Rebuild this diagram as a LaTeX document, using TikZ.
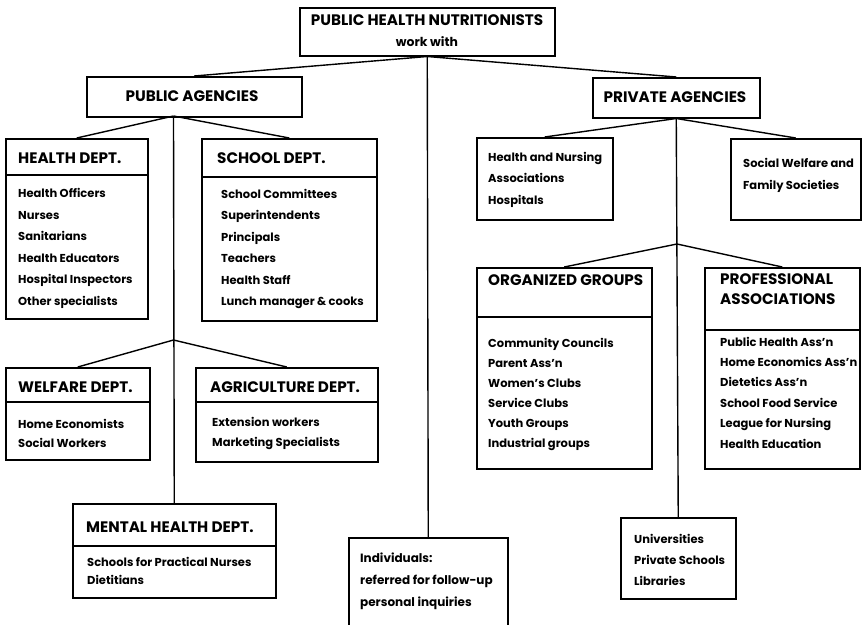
\documentclass[tikz,border=0pt]{standalone}
\usepackage{fontspec}
\setmainfont{Poppins}
\usetikzlibrary{positioning,calc}

\begin{document}
\begin{tikzpicture}[
  x=1pt, y=-1pt,
  orgbox/.style={
    rectangle, draw=black, line width=1.5pt, anchor=north west,
    inner sep=0pt
  },
  titletxt/.style={font=\bfseries\fontsize{15.2}{17}\selectfont, inner sep=0pt},
  headtxt/.style={
    anchor=base west, inner sep=0pt,
    font=\bfseries\fontsize{15.2}{17}\selectfont
  },
  itemtxt/.style={
    anchor=base west, inner sep=0pt,
    font=\bfseries\fontsize{11.5}{13}\selectfont
  },
  link/.style={draw=black, line width=1.4pt},
]
\useasboundingbox[fill=white] (0,0) rectangle (865,624);

% Top of the chart
\node[orgbox, minimum width=255pt, minimum height=48pt] (top) at (299,7) {};
\node[titletxt, anchor=base] (toptxt) at (427,25.5) {PUBLIC HEALTH NUTRITIONISTS};
\node[titletxt, anchor=base, font=\bfseries\fontsize{12.4}{14}\selectfont] (topsub) at (427,46) {work with};

\node[orgbox, minimum width=215pt, minimum height=40pt] (pub) at (86,76) {};
\node[titletxt, anchor=base] (pubtxt) at (192,101.5) {PUBLIC AGENCIES};
\node[orgbox, minimum width=167pt, minimum height=40pt] (priv) at (592,77) {};
\node[titletxt, anchor=base] (privtxt) at (675,102.5) {PRIVATE AGENCIES};

% Public agencies (left side)
\node[orgbox, minimum width=142pt, minimum height=180pt] (health) at (5,138) {};
\draw[link] ([yshift=-37pt]health.north west) -- ([yshift=-37pt]health.north east);
\node[headtxt] (healthhd) at (18,163.5) {HEALTH DEPT.};
\foreach \t [count=\i] in {Health Officers, Nurses, Sanitarians, Health Educators,
    Hospital Inspectors, Other specialists}
  \node[itemtxt] (health\i) at (18,{197.5+21.6*(\i-1)}) {\t};

\node[orgbox, minimum width=175pt, minimum height=182pt] (school) at (201,138) {};
\draw[link] ([yshift=-39pt]school.north west) -- ([yshift=-39pt]school.north east);
\node[headtxt] (schoolhd) at (217,163.5) {SCHOOL DEPT.};
\foreach \t [count=\i] in {School Committees, Superintendents, Principals, Teachers,
    Health Staff, Lunch manager \& cooks}
  \node[itemtxt] (school\i) at (221,{198.5+21.4*(\i-1)}) {\t};

\node[orgbox, minimum width=144pt, minimum height=92pt] (welfare) at (5,367) {};
\draw[link] ([yshift=-35pt]welfare.north west) -- ([yshift=-35pt]welfare.north east);
\node[headtxt] (welfarehd) at (18,392.5) {WELFARE DEPT.};
\node[itemtxt] (welfare1) at (18,428) {Home Economists};
\node[itemtxt] (welfare2) at (18,447) {Social Workers};

\node[orgbox, minimum width=182pt, minimum height=94pt] (agri) at (195,367) {};
\draw[link] ([yshift=-35pt]agri.north west) -- ([yshift=-35pt]agri.north east);
\node[headtxt] (agrihd) at (210,392.5) {AGRICULTURE DEPT.};
\node[itemtxt] (agri1) at (212,426.5) {Extension workers};
\node[itemtxt] (agri2) at (212,446.5) {Marketing Specialists};

\node[orgbox, minimum width=203pt, minimum height=94pt] (mental) at (72,503) {};
\draw[link] ([yshift=-43pt]mental.north west) -- ([yshift=-43pt]mental.north east);
\node[headtxt] (mentalhd) at (86,532.5) {MENTAL HEALTH DEPT.};
\node[itemtxt] (mental1) at (87,566) {Schools for Practical Nurses};
\node[itemtxt] (mental2) at (87,584) {Dietitians};

% Individuals (centre, runs off the page)
\node[orgbox, minimum width=159pt, minimum height=110pt] (indiv) at (348,537) {};
\foreach \t [count=\i] in {Individuals:, referred for follow-up, personal inquiries}
  \node[itemtxt, font=\bfseries\fontsize{12}{14}\selectfont] (indiv\i) at (360,{562+22*(\i-1)}) {\t};

% Private agencies (right side)
\node[orgbox, minimum width=136pt, minimum height=82pt] (hn) at (476,137) {};
\foreach \t [count=\i] in {Health and Nursing, Associations, Hospitals}
  \node[itemtxt] (hn\i) at (488,{161+21.5*(\i-1)}) {\t};

\node[orgbox, minimum width=130pt, minimum height=81pt] (social) at (730,138) {};
\node[itemtxt] (social1) at (743,167) {Social Welfare and};
\node[itemtxt] (social2) at (743,189) {Family Societies};

\node[orgbox, minimum width=175pt, minimum height=201pt] (org) at (476,267) {};
\draw[link] ([yshift=-50pt]org.north west) -- ([yshift=-50pt]org.north east);
\node[headtxt] (orghd) at (488,285.5) {ORGANIZED GROUPS};
\foreach \t [count=\i] in {Community Councils, Parent Ass'n, Women's Clubs,
    Service Clubs, Youth Groups, Industrial groups}
  \node[itemtxt] (org\i) at (488,{347+20*(\i-1)}) {\t};

\node[orgbox, minimum width=155pt, minimum height=201pt] (prof) at (704,267) {};
\draw[link] ([yshift=-63pt]prof.north west) -- ([yshift=-63pt]prof.north east);
\node[headtxt] (profhd1) at (720,284.5) {PROFESSIONAL};
\node[headtxt] (profhd2) at (720,304.5) {ASSOCIATIONS};
\foreach \t [count=\i] in {Public Health Ass'n, Home Economics Ass'n, Dietetics Ass'n,
    School Food Service, League for Nursing, Health Education}
  \node[itemtxt] (prof\i) at (720,{346+20.4*(\i-1)}) {\t};

\node[orgbox, minimum width=115pt, minimum height=81pt] (univ) at (620,517) {};
\foreach \t [count=\i] in {Universities, Private Schools, Libraries}
  \node[itemtxt] (univ\i) at (634,{543+21*(\i-1)}) {\t};

% Connectors
\coordinate (pubfork) at (173.5,116);
\coordinate (welfork) at (173.5,340);
\coordinate (orgfork) at (677,244);

\draw[link] (top.south) -- (pub.north);
\draw[link] (top.south) -- (priv.north);
\draw[link] (top.south) -- (indiv.north);

\foreach \b in {health, school, mental}
  \draw[link] (pubfork) -- (\b.north);
\foreach \b in {welfare, agri}
  \draw[link] (welfork) -- (\b.north);

\foreach \b in {hn, social, univ}
  \draw[link] (priv.south) -- (\b.north);
\foreach \b in {org, prof}
  \draw[link] (orgfork) -- (\b.north);

\end{tikzpicture}
\end{document}
